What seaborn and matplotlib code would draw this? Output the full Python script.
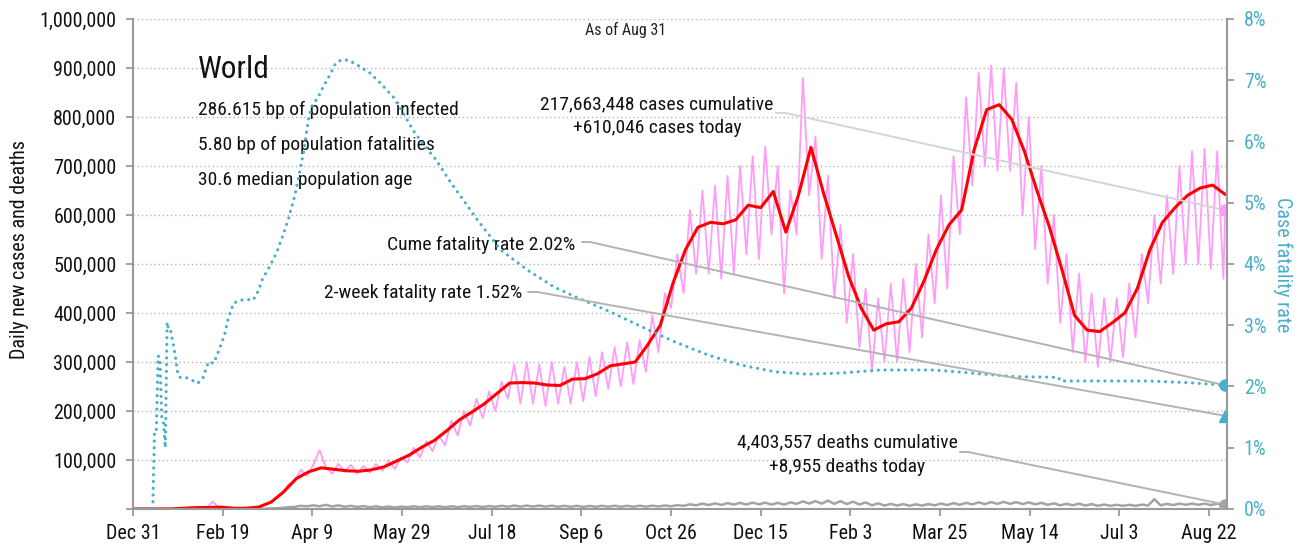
import numpy as np
import pandas as pd
import matplotlib
matplotlib.use('Agg')
import matplotlib.pyplot as plt
import matplotlib.dates as mdates
from matplotlib import font_manager
from matplotlib.ticker import FuncFormatter
import seaborn as sns

START = pd.Timestamp('2019-12-31')

# daily new cases, two readings a week (Monday low, Thursday high), thousands
cases_k = [
    0, 0, 0, 0, 0, 0, 0.1, 0.5, 1.5, 2.0, 2.5, 3.5, 2.5, 15, 1.5, 2, 0.6, 1.5, 1.5, 2.5,
    3, 8, 12, 22, 30, 50, 55, 80, 68, 90, 120, 85, 72, 92, 76, 90, 72, 88, 74, 92,
    78, 100, 82, 105, 95, 125, 105, 138, 118, 150, 130, 180, 150, 200, 170, 225, 185, 240, 200, 260,
    225, 295, 215, 300, 215, 295, 210, 300, 215, 290, 215, 300, 220, 310, 230, 320, 245, 330, 250, 340,
    255, 345, 280, 395, 320, 440, 410, 520, 440, 610, 480, 650, 480, 660, 470, 680, 480, 700, 520, 720,
    510, 740, 560, 700, 440, 650, 560, 880, 640, 760, 510, 680, 430, 580, 380, 520, 330, 450, 280, 430,
    300, 460, 300, 470, 320, 500, 350, 560, 420, 640, 450, 720, 560, 840, 660, 890, 700, 905, 690, 900,
    690, 870, 600, 800, 530, 700, 460, 600, 380, 520, 320, 480, 300, 440, 290, 430, 300, 430, 310, 460,
    350, 520, 420, 600, 460, 640, 480, 700, 500, 730, 500, 735, 490, 730, 470,
]

# 7-day average of new cases, weekly from Dec 31 2019, thousands
avg_k = [
    0, 0, 0, 0.1, 1.5, 2.8, 3.0, 3.8, 1.5, 1.5,
    4, 14, 35, 62, 76, 84, 81, 78, 77, 80,
    86, 98, 110, 126, 140, 160, 182, 198, 215, 236,
    257, 258, 257, 253, 252, 265, 266, 276, 292, 296,
    300, 335, 375, 460, 529, 575, 585, 582, 590, 620,
    615, 648, 565, 640, 738, 645, 560, 475, 410, 365,
    378, 382, 410, 465, 530, 580, 610, 733, 815, 825,
    795, 730, 650, 575, 488, 395, 365, 362, 380, 400,
    450, 529, 585, 615, 640, 655, 661, 642,
]

# daily deaths, same dates as cases_k, thousands
deaths_k = [
    0, 0, 0, 0, 0, 0, 0, 0.02, 0.03, 0.05, 0.06, 0.1, 0.1, 0.25, 0.1, 0.1, 0.05, 0.05, 0.05, 0.1,
    0.2, 0.4, 0.8, 1.5, 2.2, 3.5, 4.2, 6.5, 5.5, 7.5, 5.5, 8.5, 5.0, 7.5, 4.5, 6.5, 4.0, 6.0, 3.5, 5.5,
    3.2, 5.0, 3.0, 5.0, 3.5, 5.5, 3.5, 5.5, 3.8, 5.5, 3.6, 5.6, 3.8, 5.8, 4.2, 6.0, 4.0, 6.0, 4.5, 6.5,
    4.6, 7.0, 4.8, 7.0, 5.0, 7.0, 4.8, 6.8, 4.5, 6.5, 4.5, 6.5, 4.2, 6.2, 4.5, 6.5, 4.6, 6.6, 4.5, 6.5,
    4.6, 6.8, 4.8, 6.8, 5.2, 7.2, 5.5, 7.8, 6.5, 9.5, 7.5, 11.0, 8.0, 11.5, 8.3, 12.0, 9.0, 12.5, 9.0, 13.0,
    9.5, 13.0, 9.0, 12.5, 9.0, 13.5, 10.5, 15.5, 11.0, 16.0, 11.0, 17.0, 10.5, 16.0, 10.0, 15.0, 9.0, 13.5, 7.5, 11.5,
    7.0, 10.5, 7.0, 10.0, 6.5, 9.5, 7.0, 10.0, 7.5, 11.0, 8.0, 12.0, 8.5, 12.5, 9.5, 13.5, 10.0, 14.0, 10.5, 14.5,
    10.5, 14.0, 10.0, 13.5, 9.5, 12.5, 8.5, 11.5, 7.5, 10.5, 7.5, 11.0, 7.0, 10.0, 6.5, 9.0, 6.5, 8.5, 6.5, 8.5,
    6.5, 9.0, 7.0, 20.0, 7.5, 10.5, 8.0, 11.0, 8.5, 11.0, 8.5, 11.0, 8.0, 11.0, 8.0,
]

# cumulative case fatality rate (%), days after Dec 31 2019
cfr_days = [0, 5, 10, 11, 12, 13, 14, 15, 16, 17, 18, 19, 20, 21, 22, 23, 24, 25, 26, 28,
            30, 33, 36, 39, 42, 45, 48, 51, 53, 56, 60, 64, 67, 70, 72, 76, 80, 84, 87, 90,
            92, 95, 98, 100, 103, 106, 110, 113, 116, 120, 125, 132, 138, 145, 150, 156, 162, 169, 176, 184,
            192, 205, 220, 235, 247, 266, 284, 302, 321, 339, 358, 376, 395, 417, 445, 455, 475, 492, 516, 517,
            540, 566, 590, 609]
cfr_pct = [0, 0, 0, 0, 1.3, 1.3, 2.5, 2.45, 1.5, 1.4, 1.0, 3.05, 2.9, 2.9, 2.75, 2.6, 2.4, 2.2, 2.15, 2.14,
           2.14, 2.1, 2.05, 2.14, 2.4, 2.38, 2.6, 2.84, 3.1, 3.36, 3.41, 3.42, 3.41, 3.57, 3.74, 3.95, 4.18, 4.5, 4.77, 5.1,
           5.37, 5.81, 6.4, 6.6, 6.71, 6.89, 7.1, 7.28, 7.33, 7.33, 7.25, 7.12, 6.95, 6.73, 6.5, 6.19, 5.95, 5.70, 5.38, 5.05,
           4.72, 4.23, 3.9, 3.62, 3.46, 3.22, 2.97, 2.73, 2.51, 2.35, 2.24, 2.2, 2.22, 2.27, 2.27, 2.25, 2.2, 2.16, 2.15, 2.09,
           2.09, 2.09, 2.06, 2.02]

cases_today = 610046
deaths_today = 8955
cume_cfr = 2.02
two_week_cfr = 1.52
last_day = pd.Timestamp('2021-08-31')

info_lines = ['286.615 bp of population infected',
              '5.80 bp of population fatalities',
              '30.6 median population age']

PINK = '#ff9cf7'
RED = '#ff0000'
TEAL = '#4aafca'
GREY = '#a3a3a3'
TXT = 14

sns.set_style('white')
installed = {f.name for f in font_manager.fontManager.ttflist}
font = 'Liberation Sans'
for cand in ['Liberation Sans Narrow', 'Roboto Condensed', 'DejaVu Sans Condensed']:
    if cand in installed:
        font = cand
        break
plt.rcParams['font.family'] = [font, 'DejaVu Sans']

fig, ax = plt.subplots(figsize=(12.98, 5.47), dpi=100)
fig.subplots_adjust(left=0.1025, right=0.9453, bottom=0.0695, top=0.9653)

# series
pink_dates = pd.date_range('2019-12-30', periods=len(cases_k), freq='84h')
x_cases = list(pink_dates) + [last_day]
y_cases = [v * 1000 for v in cases_k] + [cases_today]
y_deaths = [v * 1000 for v in deaths_k] + [deaths_today]
avg_dates = pd.date_range(START, periods=len(avg_k), freq='7D')

sns.lineplot(x=x_cases, y=y_cases, ax=ax, color=PINK, linewidth=1.3)
sns.lineplot(x=x_cases, y=y_deaths, ax=ax, color=GREY, linewidth=1.8)
sns.lineplot(x=avg_dates, y=[v * 1000 for v in avg_k], ax=ax, color=RED, linewidth=2.2)

ax2 = ax.twinx()
cfr_dates = START + pd.to_timedelta(cfr_days, unit='D')
sns.lineplot(x=cfr_dates, y=cfr_pct, ax=ax2, color=TEAL, linewidth=2.3)
dot_line = ax2.lines[-1]
dot_line.set_dashes([0.01, 2.1])
dot_line.set_dash_capstyle('round')

# end markers
ax.plot([last_day], [cases_today], 'o', color=PINK, ms=8, zorder=5)
ax.plot([last_day], [deaths_today], 'o', color=GREY, ms=8, zorder=5)
ax2.plot([last_day], [cume_cfr], 'o', color=TEAL, ms=8, zorder=5)
ax2.plot([last_day], [two_week_cfr], '^', color=TEAL, ms=9, zorder=5)

# axes
ax.set_xlim(START, pd.Timestamp('2021-09-01'))
ax.set_ylim(0, 1_000_000)
ax2.set_ylim(0, 8)
ax.set_xticks(pd.date_range(START, periods=13, freq='50D'))
ax.xaxis.set_major_formatter(mdates.DateFormatter('%b %-d'))
ax.set_yticks(np.arange(0, 1_000_001, 100_000))
ax.yaxis.set_major_formatter(FuncFormatter(lambda v, p: '' if v == 0 else f'{int(v):,}'))
ax2.set_yticks(range(0, 9))
ax2.yaxis.set_major_formatter(FuncFormatter(lambda v, p: f'{v:.0f}%'))
ax.set_xlabel('')
ax.set_ylabel('')
ax2.set_ylabel('')

for a in (ax, ax2):
    for s in a.spines.values():
        s.set_color('#9a9a9a')
        s.set_linewidth(1.5)
    a.spines['top'].set_visible(False)
ax.spines['right'].set_visible(False)
ax2.spines['left'].set_visible(False)
ax2.spines['bottom'].set_visible(False)

ax.tick_params(axis='both', direction='out', length=5, width=1.3, color='#9a9a9a',
               labelsize=14.5, labelcolor='#111111', pad=7)
ax.tick_params(axis='x', pad=6, bottom=True)
ax2.tick_params(axis='y', direction='out', length=5, width=1.3, color='#9a9a9a',
                labelsize=14.5, labelcolor=TEAL, pad=7, right=True)

ax.yaxis.grid(True, linestyle=(0, (1, 2)), color='#b5b5b5', linewidth=1)
ax.xaxis.grid(False)
ax2.grid(False)
ax.set_axisbelow(True)

fig.text(0.0154, 0.543, 'Daily new cases and deaths', rotation=90, ha='center', va='center',
         fontsize=14.5, color='#111111')
fig.text(0.9884, 0.517, 'Case fatality rate', rotation=270, ha='center', va='center',
         fontsize=14.5, color=TEAL)

# text block
ax.text(0.4506, 0.9673, 'As of Aug 31', transform=ax.transAxes, ha='center', va='baseline',
        fontsize=11.5, color='#222222')
ax.text(0.0594, 0.8796, 'World', transform=ax.transAxes, ha='left', va='baseline',
        fontsize=22.5, color='#111111')
for line, yb in zip(info_lines, [0.8041, 0.7327, 0.6612]):
    ax.text(0.0594, yb, line, transform=ax.transAxes, ha='left', va='baseline',
            fontsize=TXT, color='#111111')

ax.text(0.479, 0.8163, f'{217663448:,} cases cumulative', transform=ax.transAxes,
        ha='center', va='baseline', fontsize=TXT, color='#111111')
ax.text(0.479, 0.7673, f'+{cases_today:,} cases today', transform=ax.transAxes,
        ha='center', va='baseline', fontsize=TXT, color='#111111')
ax.text(0.404, 0.5286, f'Cume fatality rate {cume_cfr:.2f}%', transform=ax.transAxes,
        ha='right', va='baseline', fontsize=TXT, color='#111111')
ax.text(0.3556, 0.4306, f'2-week fatality rate {two_week_cfr:.2f}%', transform=ax.transAxes,
        ha='right', va='baseline', fontsize=TXT, color='#111111')
ax.text(0.6527, 0.1265, f'{4403557:,} deaths cumulative', transform=ax.transAxes,
        ha='center', va='baseline', fontsize=TXT, color='#111111')
ax.text(0.6527, 0.0755, f'+{deaths_today:,} deaths today', transform=ax.transAxes,
        ha='center', va='baseline', fontsize=TXT, color='#111111')


def leader(axis, x0, x1, yf, target, color):
    axis.plot([x0, x1], [yf, yf], color=color, lw=1.4, transform=axis.transAxes, zorder=4)
    axis.annotate('', xy=target, xycoords='data', xytext=(x1, yf), textcoords='axes fraction',
                  arrowprops=dict(arrowstyle='-', color=color, lw=1.4, shrinkA=0, shrinkB=0),
                  zorder=4)


leader(ax, 0.5877, 0.596, 0.8082, (last_day, cases_today), '#d5d5d5')
leader(ax2, 0.4104, 0.4177, 0.5449, (last_day, cume_cfr), '#b3b3b3')
leader(ax2, 0.361, 0.3693, 0.4429, (last_day, two_week_cfr), '#b3b3b3')
leader(ax, 0.756, 0.7633, 0.1163, (last_day, deaths_today), '#b3b3b3')

fig.savefig('out.png', dpi=100)
